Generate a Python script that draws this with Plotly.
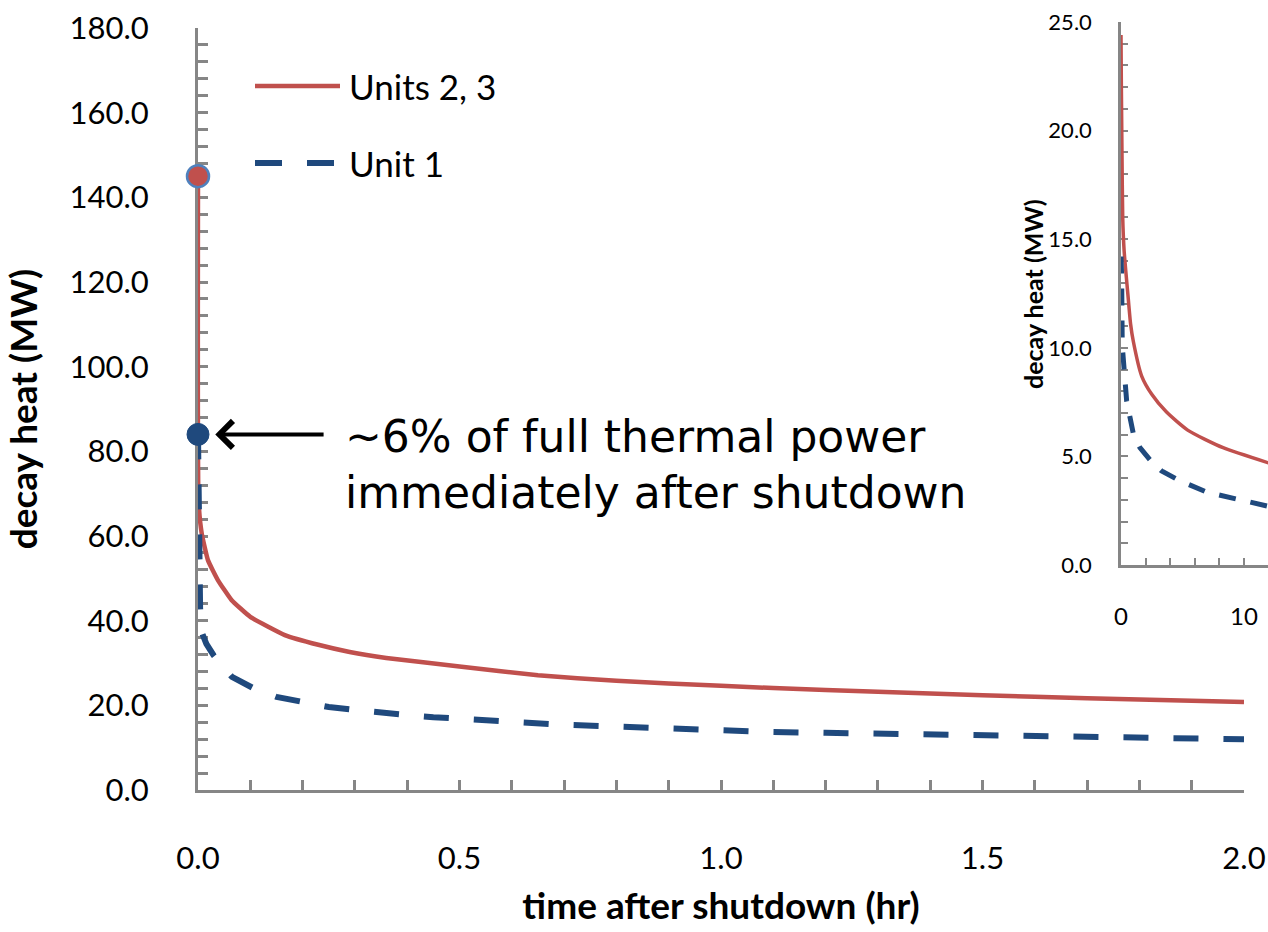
import plotly.graph_objects as go

# ---- data ----
main_t_units23 = [0, 0.001, 0.007, 0.019, 0.038, 0.064, 0.10, 0.166, 0.23, 0.29, 0.36,
                  0.5, 0.65, 0.8, 1.0, 1.2, 1.4, 1.6, 1.8, 2.0]
main_mw_units23 = [145, 68.5, 60.7, 54.3, 49.6, 44.9, 40.9, 36.6, 34.3, 32.6, 31.2,
                   29.2, 27.1, 25.8, 24.6, 23.6, 22.8, 22.0, 21.4, 20.8]

main_t_unit1 = [0, 0.001, 0.004, 0.008, 0.016, 0.03, 0.065, 0.105, 0.15, 0.2, 0.25, 0.3,
                0.35, 0.4, 0.45, 0.5, 0.55, 0.6, 0.7, 0.8, 0.9, 1.0, 1.1, 1.2, 1.3, 1.4,
                1.5, 1.6, 1.7, 1.8, 1.9, 2.0]
main_mw_unit1 = [84, 66, 43, 37, 34.5, 31.8, 26.7, 24.1, 22.0, 20.8, 19.6, 18.9,
                 18.2, 17.7, 17.2, 16.8, 16.4, 16.0, 15.4, 15.0, 14.5, 14.0, 13.7, 13.5, 13.3, 13.0,
                 12.7, 12.5, 12.4, 12.1, 12.0, 12.0]

inset_t_units23 = [0, 0.03, 0.08, 0.14, 0.25, 0.38, 0.6, 0.78, 1.0, 1.68, 2.5, 3.7, 5.45, 8.3, 12.0]
inset_mw_units23 = [24.4, 22, 19, 16, 14.5, 13.6, 12.2, 11.1, 10.3, 8.7, 7.86, 7.04, 6.2, 5.4, 4.7]

inset_t_unit1 = [0, 0.05, 0.1, 0.3, 0.46, 0.73, 1.0, 1.54, 2.5, 3.3, 4.7, 7.0, 9.5, 12.0]
inset_mw_unit1 = [14.2, 13.35, 10.1, 8.4, 7.55, 6.8, 6.05, 5.4, 4.74, 4.33, 3.9, 3.35, 3.0, 2.7]

highlight_t = [0, 0]
highlight_mw = [145, 84]

series_names = ["Units 2, 3", "Unit 1"]
annotation_lines = ["~6% of full thermal power", "immediately after shutdown"]
y_title = "decay heat (MW)"
x_title = "time after shutdown (hr)"

RED = "#c0504d"
BLUE = "#1f497d"
AXIS = "#868686"
FONT = "Lato"

fig = go.Figure()

fig.add_trace(go.Scatter(x=main_t_units23, y=main_mw_units23, mode="lines",
                         name=series_names[0],
                         line=dict(color=RED, width=4.5, shape="spline", smoothing=0.4),
                         xaxis="x", yaxis="y", showlegend=False))
fig.add_trace(go.Scatter(x=main_t_unit1, y=main_mw_unit1, mode="lines",
                         name=series_names[1], line=dict(color=BLUE, width=6, dash="25px,25px"),
                         xaxis="x", yaxis="y", showlegend=False))
fig.add_trace(go.Scatter(x=highlight_t[:1], y=highlight_mw[:1], mode="markers",
                         marker=dict(size=22, color=RED, line=dict(color="#4f81bd", width=2.5)),
                         cliponaxis=False, showlegend=False))
fig.add_trace(go.Scatter(x=highlight_t[1:], y=highlight_mw[1:], mode="markers",
                         marker=dict(size=22, color=BLUE, line=dict(color=BLUE, width=1)),
                         cliponaxis=False, showlegend=False))

fig.add_trace(go.Scatter(x=inset_t_units23, y=inset_mw_units23, mode="lines",
                         line=dict(color=RED, width=3.5, shape="spline", smoothing=0.6),
                         xaxis="x2", yaxis="y2", showlegend=False))
fig.add_trace(go.Scatter(x=inset_t_unit1, y=inset_mw_unit1, mode="lines",
                         line=dict(color=BLUE, width=5, dash="17px,15px"),
                         xaxis="x2", yaxis="y2", showlegend=False))

W, H = 1268, 932
ML, MR, MT, MB = 198, 0, 22, 142
PW = W - ML - MR
PH = H - MT - MB


def px_x(p):
    return (p - ML) / PW


def px_y(p):
    return (H - MB - p) / PH


tickfont = dict(family=FONT, size=31, color="black")
common = dict(showline=True, linecolor=AXIS, linewidth=3, ticks="inside",
              tickcolor=AXIS, tickwidth=2.5, showgrid=False, zeroline=False,
              layer="below traces", automargin=False)

fig.update_layout(
    template="none",
    width=W, height=H,
    margin=dict(l=ML, r=MR, t=MT, b=MB, autoexpand=False),
    paper_bgcolor="white", plot_bgcolor="rgba(0,0,0,0)",
    xaxis=dict(domain=[0, px_x(1244)], range=[0, 2], dtick=0.5, tick0=0, tickformat=".1f",
               ticklen=10, minor=dict(dtick=0.1, ticks="inside", ticklen=10, tickwidth=2.5, tickcolor=AXIS),
               tickfont=tickfont, ticklabelstandoff=39,
               title=dict(text="<b>" + x_title + "</b>",
                          font=dict(family=FONT, size=37, color="black"), standoff=18),
               **common),
    yaxis=dict(domain=[0, px_y(28)], range=[0, 180], dtick=20, tick0=0, tickformat=".1f",
               ticklen=10, minor=dict(dtick=4, ticks="inside", ticklen=10, tickwidth=2.5, tickcolor=AXIS),
               tickfont=tickfont, ticklabelstandoff=40,
               title=dict(text="<b>" + y_title + "</b>",
                          font=dict(family=FONT, size=37, color="black"), standoff=22),
               **common),
    xaxis2=dict(anchor="y2", domain=[px_x(1121), 1], range=[0, 11.95], dtick=10, tick0=0,
                ticklen=7, minor=dict(dtick=2, ticks="inside", ticklen=7, tickwidth=2, tickcolor=AXIS),
                tickfont=dict(family=FONT, size=24, color="black"), ticklabelstandoff=28,
                **{**common, "tickwidth": 2, "linewidth": 2.5}),
    yaxis2=dict(anchor="x2", domain=[px_y(565), 1], range=[0, 25], dtick=5, tick0=0, tickformat=".1f",
                ticklen=7, minor=dict(dtick=1, ticks="inside", ticklen=7, tickwidth=2, tickcolor=AXIS),
                tickfont=dict(family=FONT, size=22, color="black"), ticklabelstandoff=22,
                **{**common, "tickwidth": 2, "linewidth": 2.5}),
)

# inset y-axis title (placed tight against its tick labels)
fig.add_annotation(xref="paper", yref="paper", x=px_x(1033), y=px_y(294), text="<b>" + y_title + "</b>",
                   showarrow=False, textangle=-90, xanchor="center", yanchor="middle",
                   font=dict(family=FONT, size=25, color="black"))

# legend drawn as samples + labels
leg_x0, leg_x1, leg_tx = px_x(255), px_x(340), px_x(347)
leg_y = [px_y(86), px_y(163)]
fig.add_shape(type="line", xref="paper", yref="paper", x0=leg_x0, x1=leg_x1, y0=leg_y[0], y1=leg_y[0],
              line=dict(color=RED, width=4.5))
fig.add_shape(type="line", xref="paper", yref="paper", x0=leg_x0, x1=leg_x1, y0=leg_y[1], y1=leg_y[1],
              line=dict(color=BLUE, width=6, dash="27px,25px"))
for name, yy in zip(series_names, leg_y):
    fig.add_annotation(xref="paper", yref="paper", x=leg_tx, y=yy, text=name, showarrow=False,
                       xanchor="left", yanchor="middle",
                       font=dict(family=FONT, size=35, color="black"))

# callout arrow and text
fig.add_annotation(x=0.033, y=highlight_mw[1], ax=0.243, ay=highlight_mw[1], xref="x", yref="y",
                   axref="x", ayref="y", text="", showarrow=True, arrowhead=4, arrowsize=1.3,
                   arrowwidth=4, arrowcolor="black")
for line_text, yy in zip(annotation_lines, [px_y(436), px_y(492)]):
    fig.add_annotation(xref="paper", yref="paper", x=px_x(343), y=yy, text=line_text,
                       showarrow=False, xanchor="left", yanchor="middle", align="left",
                       font=dict(family="DejaVu Sans", size=44, color="black"))

fig.write_html("out.html")
